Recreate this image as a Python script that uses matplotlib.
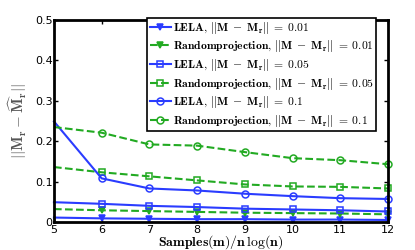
import numpy as np
import matplotlib
matplotlib.use("Agg")
from matplotlib import pyplot as plt

samples = [5, 6, 7, 8, 9, 10, 11, 12]

lela_001 = [0.011, 0.009, 0.008, 0.007, 0.007, 0.006, 0.006, 0.005]
rand_001 = [0.032, 0.029, 0.027, 0.025, 0.023, 0.022, 0.021, 0.019]
lela_005 = [0.049, 0.045, 0.040, 0.037, 0.033, 0.031, 0.029, 0.026]
rand_005 = [0.136, 0.123, 0.113, 0.103, 0.093, 0.088, 0.087, 0.083]
lela_01 = [0.249, 0.108, 0.083, 0.078, 0.070, 0.064, 0.059, 0.057]
rand_01 = [0.235, 0.221, 0.192, 0.189, 0.173, 0.158, 0.153, 0.143]

levels = ["0.01", "0.05", "0.1"]

plt.rcParams['mathtext.fontset'] = 'cm'

blue = '#2a3cff'
green = '#22aa22'

fig = plt.figure(figsize=(4.15, 2.5), dpi=100)
ax = fig.add_axes([0.130, 0.112, 0.805, 0.808])

series = [
    (lela_001, 'LELA', blue, '-', 'v', levels[0]),
    (rand_001, 'Randomprojection', green, '--', 'v', levels[0]),
    (lela_005, 'LELA', blue, '-', 's', levels[1]),
    (rand_005, 'Randomprojection', green, '--', 's', levels[1]),
    (lela_01, 'LELA', blue, '-', 'o', levels[2]),
    (rand_01, 'Randomprojection', green, '--', 'o', levels[2]),
]

for y, name, col, ls, mk, lev in series:
    filled = mk == 'v'
    label = (r'$\mathbf{%s},\,||\mathbf{M}\;-\;\mathbf{M_r}||\;=\;\mathbf{%s}$'
             % (name, lev))
    ax.plot(samples, y, color=col, linestyle=ls, linewidth=1.5, marker=mk,
            markersize=5 if mk != 's' else 4.5, markevery=slice(1, None),
            markerfacecolor=col if filled else 'none', markeredgecolor=col,
            markeredgewidth=1.1, label=label, clip_on=False)

ax.set_xlim(5, 12)
ax.set_ylim(0, 0.5)
ax.set_xticks(samples)
ax.set_yticks([0, 0.1, 0.2, 0.3, 0.4, 0.5])
ax.set_yticklabels(['0', '0.1', '0.2', '0.3', '0.4', '0.5'])
ax.tick_params(direction='in', top=True, right=True, length=3, width=1,
               labelsize=8, pad=1)
ax.tick_params(axis='x', pad=2)
for s in ax.spines.values():
    s.set_linewidth(2)

ax.set_xlabel(r'$\mathbf{Samples(m)/n\,\log(n)}$', fontsize=10, labelpad=-1)
ax.set_ylabel(r'$||\mathbf{M_r}-\widehat{\mathbf{M}}_\mathbf{r}||$', fontsize=11,
              color='#555555', labelpad=4)

leg = ax.legend(loc='upper right', bbox_to_anchor=(0.965, 1.012), fontsize=8.4,
                frameon=True, fancybox=False, edgecolor='black',
                borderpad=0.2, labelspacing=0.22, handlelength=1.8,
                handletextpad=0.2, borderaxespad=0)
leg.get_frame().set_linewidth(1.2)
leg.get_frame().set_alpha(1)

fig.savefig('out.png', dpi=100)
